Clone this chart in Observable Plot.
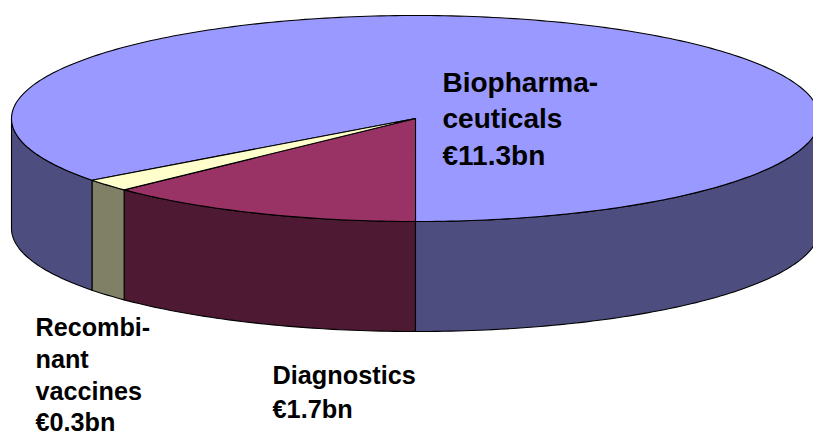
<!DOCTYPE html>
<html>
<head>
<meta charset="utf-8">
<script src="https://cdn.jsdelivr.net/npm/d3@7"></script>
<script src="https://cdn.jsdelivr.net/npm/@observablehq/plot@0.6"></script>
<style>html,body{margin:0;padding:0;background:#fff}svg{display:block}</style>
</head>
<body>
<div id="chart"></div>
<script>
// Slices in drawing order, clockwise from the front of the pie
const categories = ["Diagnostics", "Recombinant vaccines", "Biopharmaceuticals"];
const values = [1.7, 0.26, 11.3]; // € bn, as measured from the slice sizes
const topColors = ["#993366", "#FFFFCC", "#9999FF"];
const sideColors = ["#4D1933", "#808066", "#4D4D80"];
const labels = ["Diagnostics\n€1.7bn", "Recombi-\nnant\nvaccines\n€0.3bn", "Biopharma-\nceuticals\n€11.3bn"];
const labelDx = [272, 35, 442];
const labelDy = [360, 313, 65];
const labelSize = [25.3, 25.2, 28];
const labelLeading = [1.33, 1.26, 1.31];

const width = 813, height = 432;
const cx = 415, cy = 118, rx = 404, ry = 103, depth = 110 / ry;

const total = d3.sum(values);
let acc = 0;
const slices = values.map((v, i) => {
  const a0 = acc / total * 360; acc += v;
  return {i, a0, a1: acc / total * 360};
});
const rad = d => d * Math.PI / 180;
const pt = (deg, dy = 0) => ({x: -Math.sin(rad(deg)), y: Math.cos(rad(deg)) + dy});
const arc = (a0, a1, dy = 0) => {
  const n = Math.max(2, Math.ceil(Math.abs(a1 - a0)));
  return d3.range(n + 1).map(k => pt(a0 + (a1 - a0) * k / n, dy));
};
const topShape = s => [{x: 0, y: 0}, ...arc(s.a0, s.a1), {x: 0, y: 0}];
const wall = (a0, a1) => {
  const up = arc(a0, a1);
  return [...up, ...arc(a1, a0, depth), up[0]];
};
// Parts of each slice's rim that face the viewer (front half: 0–90° and 270–360°)
const walls = [];
for (const s of slices) {
  if (s.a0 < 90) walls.push({i: s.i, pts: wall(s.a0, Math.min(s.a1, 90))});
  if (s.a1 > 270) walls.push({i: s.i, pts: wall(Math.max(s.a0, 270), s.a1)});
}
const polygon = (pts, fill) => Plot.line(pts, {
  x: "x", y: "y", fill, stroke: "#000", strokeWidth: 1.1,
  curve: "linear", strokeLinejoin: "round"
});

const order = [2, 0, 1];
const chart = Plot.plot({
  width, height,
  marginTop: 0, marginRight: 0, marginBottom: 0, marginLeft: 0,
  style: {background: "#fff"},
  x: {axis: null, domain: [-cx / rx, (width - cx) / rx], range: [0, width]},
  y: {axis: null, domain: [-cy / ry, (height - cy) / ry], range: [0, height]},
  marks: [
    ...walls.map(w => polygon(w.pts, sideColors[w.i])),
    ...order.map(i => polygon(topShape(slices[i]), topColors[i])),
    ...labels.map((t, i) => Plot.text([t], {
      text: d => d,
      frameAnchor: "top-left",
      dx: labelDx[i], dy: labelDy[i],
      textAnchor: "start", lineAnchor: "top",
      lineHeight: labelLeading[i],
      fontFamily: "Liberation Sans, Arial, sans-serif",
      fontWeight: "bold",
      fontSize: labelSize[i],
      fill: "#000"
    }))
  ]
});
document.getElementById("chart").append(chart);
</script>
</body>
</html>
